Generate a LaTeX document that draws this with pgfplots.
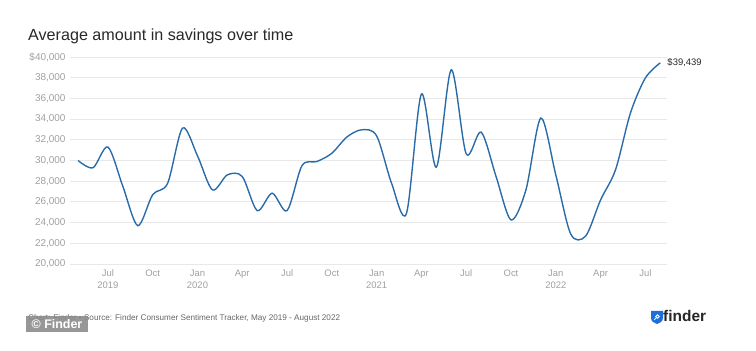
\documentclass[border=0pt]{standalone}
\usepackage{pgfplots}
\pgfplotsset{compat=1.18}
\usepackage{fontspec}
\setmainfont{Liberation Sans}
\definecolor{lineblue}{RGB}{41,107,168}
\definecolor{gridgray}{RGB}{232,232,232}
\definecolor{ticklab}{RGB}{160,160,160}
\definecolor{titlecol}{RGB}{40,40,40}
\definecolor{logoblue}{RGB}{30,110,220}
\begin{document}
\begin{tikzpicture}
\useasboundingbox (0,0) rectangle (756bp,351bp);
\node[anchor=base west, inner sep=0, text=titlecol, font=\fontsize{16.2}{19}\selectfont] at (28bp,310bp) {Average amount in savings over time};
\begin{axis}[
  at={(70bp,87bp)}, anchor=south west,
  scale only axis, width=597bp, height=207bp,
  xmin=-0.54, xmax=39.45, ymin=20000, ymax=40000,
  scaled y ticks=false,
  axis line style={draw=none},
  major tick length=0pt,
  ymajorgrids, grid style={gridgray, line width=0.8pt},
  ytick={20000,22000,...,40000},
  yticklabels={{20,000},{22,000},{24,000},{26,000},{28,000},{30,000},{32,000},{34,000},{36,000},{38,000},{\$40,000}},
  xtick={2,5,8,11,14,17,20,23,26,29,32,35,38},
  xticklabels={{Jul\\2019},Oct,{Jan\\2020},Apr,Jul,Oct,{Jan\\2021},Apr,Jul,Oct,{Jan\\2022},Apr,Jul},
  xticklabel style={align=center, text=ticklab, font=\fontsize{9.5}{12.5}\selectfont, yshift=-2bp},
  yticklabel style={text=ticklab, font=\fontsize{10}{12}\selectfont, xshift=-1bp},
  clip=false,
]
\addplot[lineblue, line width=1.4pt, smooth, tension=0.5] coordinates {
(0,30000) (1,29300) (2,31300) (3,27500) (4,23700) (5,26700) (6,27800) (7,33130)
(8,30450) (9,27160) (10,28610) (11,28450) (12,25160) (13,26840) (14,25160)
(15,29500) (16,29900) (17,30700) (18,32260) (19,32970) (20,32380) (21,27800)
(22,24900) (23,36420) (24,29350) (25,38770) (26,30640) (27,32740) (28,28450)
(29,24260) (30,27160) (31,34100) (32,28610) (33,22900) (34,22700) (35,26190)
(36,29100) (37,34580) (38,37970) (39,39439)
};
\node[anchor=west, inner sep=0, text=titlecol, font=\fontsize{9.5}{11}\selectfont, xshift=7bp] at (axis cs:39,39439) {\$39,439};
\end{axis}
\node[anchor=base west, inner sep=0, text=black!60, font=\fontsize{8.2}{10}\selectfont] at (28bp,31bp) {Chart: Finder • Source: Finder Consumer Sentiment Tracker, May 2019 - August 2022};
\fill[black!45, opacity=0.9] (26bp,19bp) rectangle (88bp,35bp);
\node[anchor=center, inner sep=0, text=white, font=\bfseries\fontsize{12.5}{14}\selectfont] at (57bp,27bp) {© Finder};
\fill[logoblue] (651bp,40bp) -- (663bp,40bp) -- (663bp,33bp) .. controls (663bp,29bp) and (659bp,28bp) .. (657bp,27bp) .. controls (655bp,28bp) and (651bp,29bp) .. (651bp,33bp) -- cycle;
\draw[white, line width=0.8pt] (657.5bp,34.5bp) circle (1.8bp);
\draw[white, line width=0.9pt] (656.2bp,33.2bp) -- (654.3bp,31.3bp);
\node[anchor=base west, inner sep=0, text=black!85, font=\bfseries\fontsize{15.5}{18}\selectfont] at (663bp,30bp) {finder};
\end{tikzpicture}
\end{document}
